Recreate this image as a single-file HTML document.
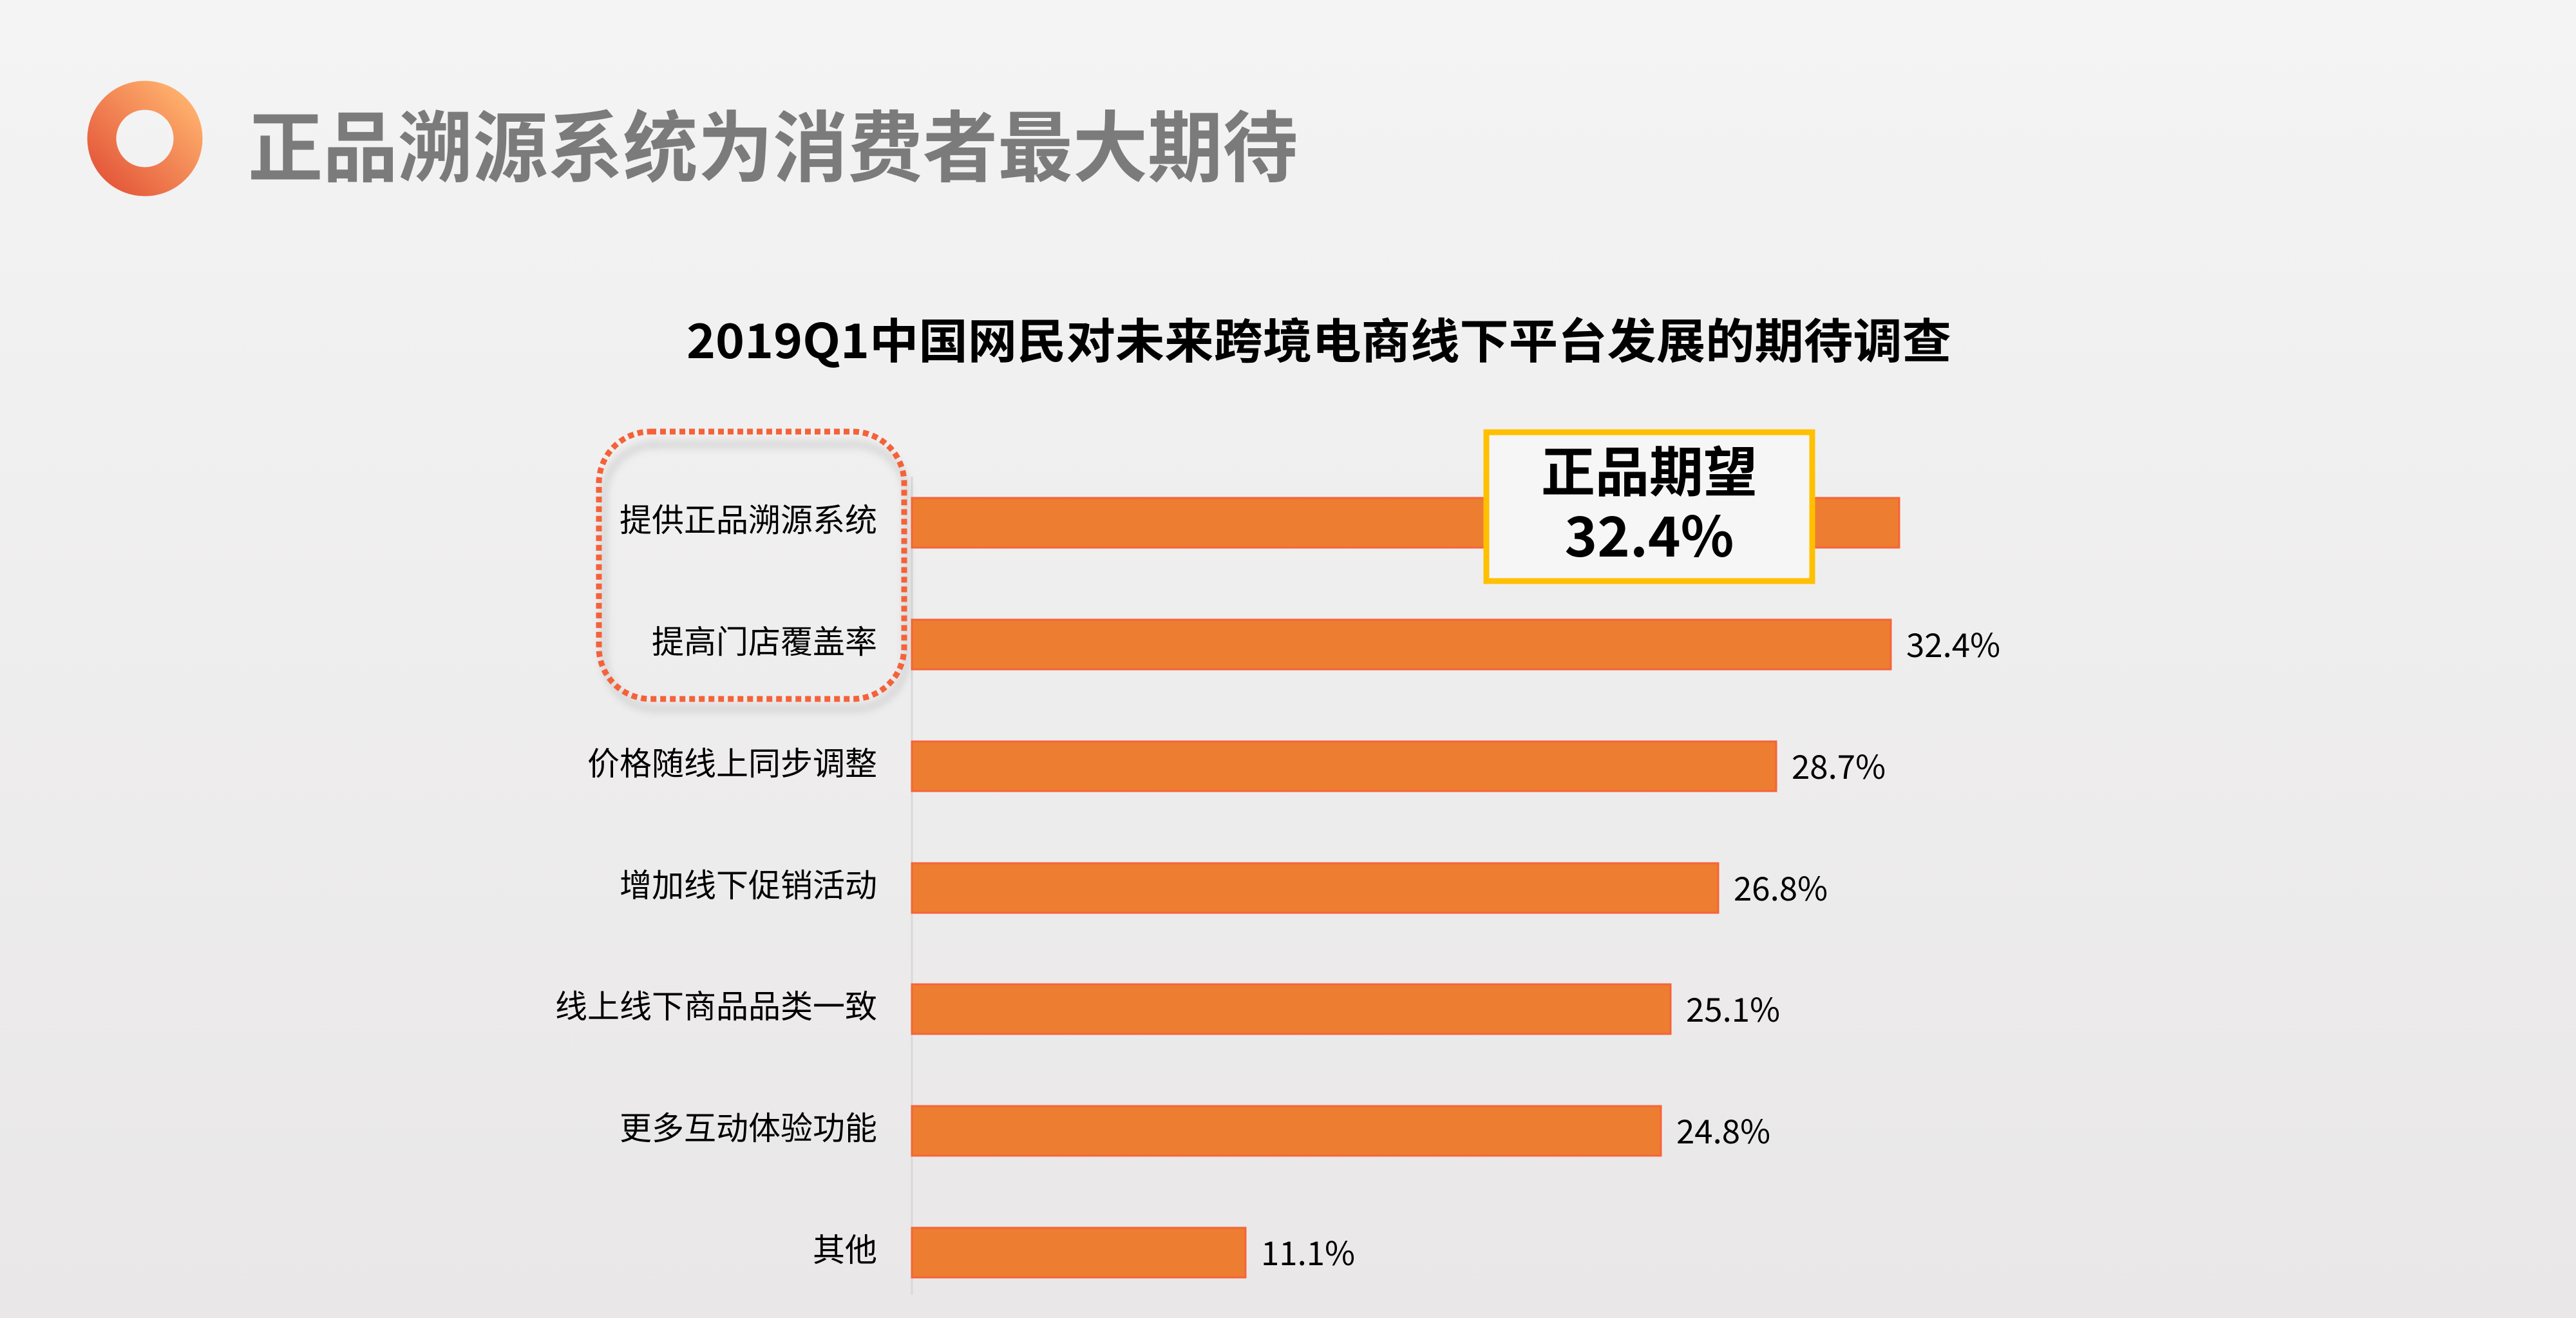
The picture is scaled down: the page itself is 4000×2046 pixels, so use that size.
<!DOCTYPE html>
<html><head><meta charset="utf-8"><style>
html,body{margin:0;padding:0}
body{width:4000px;height:2046px;overflow:hidden;background:linear-gradient(#f4f4f4,#e9e7e7)}
svg{display:block}
</style></head><body>
<svg width="4000" height="2046" viewBox="0 0 4000 2046" xmlns="http://www.w3.org/2000/svg" font-family="'Liberation Sans','Noto Sans CJK SC',sans-serif">
<defs>
<linearGradient id="g" x1="1" y1="0" x2="0" y2="1"><stop offset="0" stop-color="#ffb26e"/><stop offset="1" stop-color="#e4573a"/></linearGradient>
<filter id="sh" x="-10%" y="-10%" width="120%" height="120%"><feGaussianBlur stdDeviation="6"/></filter>
</defs>
<circle cx="225" cy="215" r="67" fill="none" stroke="url(#g)" stroke-width="45"/>
<text x="385" y="272" font-size="120" font-weight="bold" fill="#7b7b7b" font-family="'Noto Sans CJK SC',sans-serif" textLength="1630" lengthAdjust="spacingAndGlyphs">正品溯源系统为消费者最大期待</text>
<text x="1066" y="556" font-size="74" font-weight="bold" fill="#000" font-family="'Noto Sans CJK SC',sans-serif" textLength="1964" lengthAdjust="spacingAndGlyphs">2019Q1中国网民对未来跨境电商线下平台发展的期待调查</text>
<line x1="1416" y1="740" x2="1416" y2="2010" stroke="#d9d9d9" stroke-width="3"/>
<rect x="938" y="690" width="470" height="410" rx="80" fill="none" stroke="#aaa" stroke-width="10" stroke-dasharray="8 6" filter="url(#sh)" opacity="0.7"/>
<rect x="930" y="670" width="474" height="415" rx="80" fill="none" stroke="#f4623a" stroke-width="9" stroke-dasharray="9 6"/>
<g fill="#ed7d31" stroke="#f5643a" stroke-width="3">
<rect x="1416" y="773" width="1533" height="77"/>
<rect x="1416" y="962" width="1520" height="77"/>
<rect x="1416" y="1151" width="1342" height="77"/>
<rect x="1416" y="1340" width="1252" height="77"/>
<rect x="1416" y="1528" width="1178" height="77"/>
<rect x="1416" y="1717" width="1163" height="77"/>
<rect x="1416" y="1906" width="518" height="77"/>
</g>
<g font-size="50" fill="#000" text-anchor="end" font-family="'Noto Sans CJK SC',sans-serif">
<text x="1362" y="825">提供正品溯源系统</text>
<text x="1362" y="1014">提高门店覆盖率</text>
<text x="1362" y="1203">价格随线上同步调整</text>
<text x="1362" y="1392">增加线下促销活动</text>
<text x="1362" y="1580">线上线下商品品类一致</text>
<text x="1362" y="1769">更多互动体验功能</text>
<text x="1362" y="1958">其他</text>
</g>
<g font-size="51" fill="#000" font-family="'Noto Sans CJK SC',sans-serif">
<text x="2960" y="1020">32.4%</text>
<text x="2782" y="1209">28.7%</text>
<text x="2692" y="1398">26.8%</text>
<text x="2618" y="1586">25.1%</text>
<text x="2603" y="1775">24.8%</text>
<text x="1958" y="1964">11.1%</text>
</g>
<rect x="2308" y="671" width="506" height="231" fill="#f6f6f6" stroke="#ffc000" stroke-width="9"/>
<g font-size="84" fill="#000" text-anchor="middle" font-weight="bold" font-family="'Noto Sans CJK SC',sans-serif">
<text x="2561" y="763">正品期望</text>
<text x="2561" y="864" font-size="86">32.4%</text>
</g>
</svg>
</body></html>
